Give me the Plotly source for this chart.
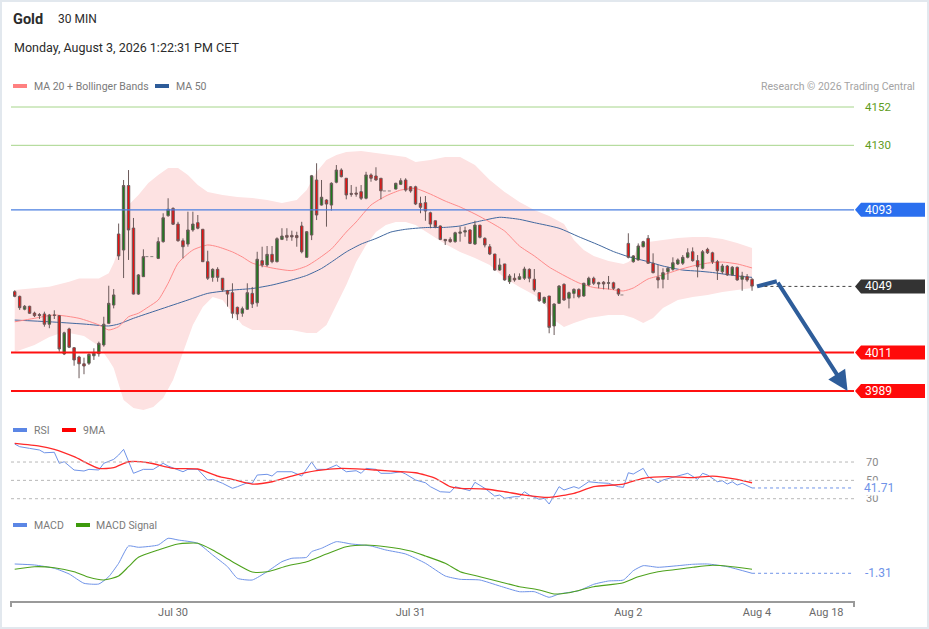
import plotly.graph_objects as go

# ---------------- data ----------------
candle_open = [4046.0,4043.3,4035.9,4037.6,4033.7,4032.9,4033.2,4027.3,4032.6,4032.2,
    4010.2,4024.6,4013.8,4008.5,4004.6,4004.9,4009.2,4010.4,4015.4,4027.8,
    4038.3,4079.1,4069.9,4106.9,4082.5,4044.6,4054.6,4066.1,4066.1,4065.1,
    4074.7,4089.6,4093.8,4084.8,4075.2,4073.3,4081.4,4085.6,4081.8,4063.2,
    4054.2,4058.8,4053.7,4046.5,4045.4,4037.0,4033.6,4035.9,4045.0,4039.6,
    4063.8,4061.3,4067.4,4063.2,4076.0,4078.3,4078.3,4078.2,4083.7,4065.7,
    4078.5,4110.1,4095.7,4098.6,4095.7,4108.8,4115.8,4111.1,4102.4,4102.6,
    4103.4,4099.6,4113.0,4112.4,4111.1,4103.8,4103.8,4104.9,4107.6,4110.1,
    4106.2,4106.2,4096.7,4097.1,4091.3,4086.7,4083.7,4076.0,4076.0,4074.7,
    4079.5,4080.2,4081.4,4073.3,4084.2,4076.6,4071.8,4067.6,4058.4,4061.9,
    4051.7,4053.7,4053.1,4053.7,4058.8,4053.1,4045.4,4039.6,4043.5,4026.3,
    4039.3,4050.2,4042.2,4045.0,4047.3,4043.5,4049.8,4053.7,4050.4,4051.4,
    4050.8,4051.1,4047.5,4044.1,4073.7,4063.2,4064.2,4071.8,4076.6,4062.3,
    4054.2,4053.1,4057.4,4058.8,4061.9,4062.3,4065.7,4068.9,4063.8,4059.4,
    4070.3,4068.3,4063.2,4057.4,4060.7,4055.6,4060.0,4053.1,4054.6,4053.1]
candle_high = [4046.8,4043.7,4038.3,4037.9,4034.5,4033.7,4034.5,4033.2,4035.3,4032.6,
    4023.0,4025.3,4014.2,4009.2,4008.1,4010.6,4013.5,4017.3,4031.6,4049.4,
    4047.5,4085.1,4110.1,4115.8,4088.3,4056.1,4070.3,4066.1,4066.1,4077.2,
    4091.0,4099.6,4094.4,4086.1,4076.6,4091.9,4091.9,4090.0,4082.0,4069.5,
    4059.4,4060.0,4053.8,4047.0,4050.8,4037.4,4037.4,4050.8,4048.7,4068.9,
    4071.8,4072.2,4072.2,4077.2,4082.4,4082.4,4081.0,4080.4,4086.1,4080.8,
    4113.0,4119.7,4110.1,4099.0,4108.8,4118.7,4116.8,4111.2,4107.2,4106.2,
    4107.2,4114.8,4113.9,4117.4,4111.2,4103.8,4103.8,4108.5,4111.1,4111.1,
    4106.6,4106.8,4100.5,4100.9,4091.9,4086.8,4084.0,4076.2,4077.2,4080.4,
    4083.3,4083.3,4081.8,4086.7,4084.2,4077.2,4073.3,4067.6,4065.1,4061.9,
    4056.1,4056.5,4056.5,4060.3,4059.4,4059.0,4045.5,4043.1,4043.5,4039.3,
    4049.8,4050.8,4046.0,4047.9,4047.9,4051.1,4054.6,4054.6,4051.7,4052.1,
    4055.0,4051.7,4047.9,4044.1,4079.5,4067.0,4073.7,4075.2,4078.5,4068.0,
    4061.3,4059.4,4060.3,4065.7,4065.1,4067.0,4070.9,4071.4,4067.0,4069.9,
    4071.2,4068.9,4064.2,4061.9,4061.3,4060.7,4060.3,4057.4,4056.1,4053.7]
candle_low = [4042.8,4035.5,4035.3,4033.2,4031.4,4030.3,4025.9,4025.0,4030.3,4011.5,
    4009.6,4013.6,4003.5,3996.3,3998.6,4003.9,4006.8,4008.7,4014.4,4027.4,
    4036.4,4064.2,4053.8,4064.2,4044.4,4044.1,4054.4,4066.1,4066.1,4064.7,
    4074.1,4089.0,4084.3,4074.7,4065.1,4071.8,4080.4,4081.8,4063.0,4052.7,
    4051.7,4051.7,4046.0,4037.4,4030.7,4029.7,4031.6,4035.5,4036.6,4037.4,
    4060.0,4060.3,4062.3,4062.8,4075.6,4075.2,4075.2,4071.8,4068.0,4065.6,
    4075.6,4087.1,4095.4,4083.3,4092.5,4108.2,4111.6,4099.0,4100.5,4100.5,
    4098.6,4099.0,4109.1,4109.7,4099.0,4103.8,4103.8,4104.7,4107.2,4103.4,
    4102.8,4095.7,4091.0,4086.7,4082.4,4082.4,4075.6,4072.8,4074.1,4074.1,
    4074.7,4077.5,4073.3,4072.8,4076.6,4071.4,4067.0,4058.0,4058.0,4052.3,
    4050.4,4051.7,4052.7,4052.7,4051.4,4046.0,4040.2,4038.9,4022.1,4021.1,
    4038.9,4040.8,4036.4,4042.2,4042.2,4043.1,4049.2,4049.8,4047.9,4047.3,
    4047.3,4047.0,4043.5,4044.1,4065.1,4062.6,4063.8,4071.4,4061.9,4056.5,
    4047.9,4047.9,4052.7,4058.0,4061.3,4061.3,4065.1,4063.2,4054.2,4058.8,
    4067.6,4061.9,4052.7,4056.1,4055.0,4055.0,4052.3,4046.5,4051.7,4046.5]
candle_close = [4043.3,4036.8,4037.6,4033.6,4032.2,4032.3,4027.3,4032.6,4032.4,4013.1,
    4022.4,4014.1,4006.8,4004.6,4003.3,4010.0,4010.6,4016.3,4027.3,4039.3,
    4044.1,4066.5,4106.9,4081.4,4044.6,4055.6,4066.1,4066.1,4066.1,4074.7,
    4088.4,4093.3,4084.7,4075.2,4071.8,4081.4,4084.8,4082.4,4063.2,4053.7,
    4058.8,4054.2,4047.0,4044.6,4033.6,4033.2,4036.2,4045.4,4038.9,4064.6,
    4061.3,4067.4,4063.2,4076.4,4077.9,4077.2,4077.4,4077.0,4068.9,4080.4,
    4112.5,4090.0,4100.2,4096.3,4108.2,4115.8,4112.0,4101.5,4101.9,4102.0,
    4099.6,4113.0,4111.1,4110.1,4103.9,4103.8,4103.8,4108.2,4109.7,4104.3,
    4103.8,4096.3,4094.4,4092.3,4084.8,4083.3,4076.0,4075.2,4074.7,4079.8,
    4080.2,4081.0,4073.7,4084.2,4077.2,4072.8,4067.6,4058.4,4061.3,4052.7,
    4055.0,4052.7,4054.6,4059.0,4053.7,4047.0,4040.8,4042.7,4025.5,4038.9,
    4049.2,4041.2,4045.4,4047.3,4043.1,4050.8,4053.7,4050.8,4051.1,4050.4,
    4051.1,4047.9,4044.6,4044.1,4065.7,4066.5,4072.2,4074.7,4062.3,4056.9,
    4052.7,4056.9,4059.4,4062.6,4064.2,4065.7,4068.3,4063.8,4060.3,4068.9,
    4068.3,4063.2,4058.0,4060.7,4055.6,4060.0,4052.7,4055.0,4052.7,4049.2]

bb_upper_idx = [0,4,7,11,13,17,19,20,21,22,23,25,27,29,31,33,35,37,39,42,45,48,51,54,57,59,
    61,63,65,67,70,73,76,79,81,84,87,90,93,96,99,102,105,108,111,113,115,117,120,123,
    124,125,126,128,131,134,137,140,143,146,149]
bb_upper = [4046.9,4048.1,4048.8,4051.7,4053.6,4053.6,4056.5,4062.4,4069.9,4087.1,4095.7,
    4101.5,4108.4,4112.9,4117.0,4117.0,4112.9,4107.2,4103.2,4101.5,4100.3,4099.8,4098.6,
    4096.9,4098.6,4104.3,4114.7,4121.6,4124.4,4126.2,4126.7,4125.6,4124.4,4123.3,4120.4,
    4121.6,4123.3,4123.3,4118.7,4110.1,4103.2,4097.5,4092.9,4089.4,4084.8,4075.6,4069.9,
    4066.5,4063.6,4061.9,4063.0,4065.3,4072.8,4074.5,4075.6,4076.8,4077.4,4077.4,4076.2,
    4073.9,4071.0]
bb_lower_idx = [0,4,7,10,14,17,19,20,21,22,24,26,28,30,32,34,36,38,40,42,44,46,48,52,56,59,
    61,63,65,67,69,71,73,75,77,79,81,84,87,90,93,96,99,102,105,107,109,111,113,116,120,
    123,125,127,129,131,134,137,140,143,146,149]
bb_lower = [4011.4,4015.4,4020.0,4022.8,4020.5,4014.8,4006.8,4002.2,3992.4,3983.8,3979.2,
    3978.1,3979.8,3985.0,3995.3,4011.4,4026.9,4037.2,4042.9,4041.2,4034.3,4026.9,4024.0,
    4024.0,4024.0,4022.3,4022.3,4026.9,4038.3,4049.8,4063.0,4072.8,4080.2,4084.3,4086.0,
    4086.0,4084.3,4079.1,4073.4,4068.8,4065.3,4061.3,4053.8,4048.7,4044.1,4039.5,4029.7,
    4025.7,4028.0,4030.9,4032.6,4032.6,4030.9,4028.0,4030.9,4036.6,4041.2,4042.9,4044.1,
    4045.8,4046.9,4048.1]
ma20_idx = [0,4,8,13,17,19,21,23,25,27,29,31,33,36,39,41,44,46,48,52,56,59,61,64,67,69,72,
    75,78,81,84,87,90,93,96,99,102,105,108,111,114,117,120,123,125,128,131,134,137,140,
    143,146,149]
ma20 = [4028.7,4030.7,4032.6,4030.7,4026.9,4024.0,4025.9,4031.6,4033.6,4037.2,4041.2,
    4050.8,4062.3,4069.9,4072.8,4071.8,4068.8,4065.9,4062.4,4059.6,4058.1,4060.7,4064.2,
    4070.5,4080.2,4086.0,4095.7,4100.9,4104.3,4105.2,4102.0,4098.0,4094.6,4090.6,4086.0,
    4080.8,4072.2,4066.5,4060.1,4055.3,4051.0,4048.4,4047.5,4046.4,4048.1,4053.3,4055.6,
    4058.4,4060.7,4062.4,4063.0,4061.9,4059.6]
ma50_idx = [0,7,14,19,21,24,29,35,39,44,48,52,56,59,62,64,67,70,73,76,79,83,87,90,92,95,
    98,102,105,110,114,118,121,124,128,131,135,138,141,144,147,149]
ma50 = [4029.7,4028.7,4027.4,4026.3,4027.4,4030.7,4035.5,4041.2,4045.0,4046.9,4047.8,
    4049.8,4052.7,4055.3,4059.3,4063.0,4068.8,4073.3,4076.5,4080.2,4081.8,4082.8,4082.9,
    4083.7,4085.2,4087.1,4088.7,4087.5,4085.6,4082.4,4077.5,4072.8,4069.0,4066.1,4063.2,
    4060.7,4058.4,4057.8,4057.0,4055.8,4054.7,4054.2]

rsi_idx = [0,1,3,5,6,8,9,10,12,14,15,17,18,20,21,22,24,26,28,30,31,34,35,37,39,40,42,44,
    45,47,48,49,51,52,53,56,58,60,61,63,65,67,69,70,71,73,74,76,78,79,81,83,84,86,88,89,
    92,93,95,97,98,99,101,102,103,104,106,107,108,110,111,113,114,116,118,120,122,123,
    124,125,127,128,130,131,133,136,138,139,140,142,143,144,145,146,147,149]
rsi = [89.6,86.7,84.9,83.1,80.1,80.6,68.6,70.3,61.3,60.2,62.0,61.3,68.6,72.9,77.6,83.8,
    57.7,62.0,62.0,68.6,65.6,59.4,62.0,62.0,50.4,51.1,46.8,41.3,43.1,47.4,46.8,55.8,56.6,
    54.7,59.4,59.4,54.7,70.0,62.0,62.0,66.7,59.4,60.5,57.7,63.1,62.0,57.7,57.7,59.4,56.9,
    50.4,47.4,43.1,37.6,37.0,43.1,38.7,47.9,41.3,32.9,34.0,30.4,32.2,32.2,37.6,34.0,29.3,
    30.4,24.2,43.1,39.5,43.1,41.3,48.5,47.4,46.8,43.1,42.4,58.3,56.9,63.1,54.0,47.4,50.4,
    53.3,57.7,51.1,57.7,55.8,48.5,49.6,46.0,48.5,44.9,46.8,41.71]
rsi_ma_idx = [0,5,8,12,17,20,23,27,32,37,41,44,48,52,56,61,66,73,78,81,85,88,90,95,99,103,
    108,113,117,123,127,132,137,141,146,149]
rsi_ma = [90.4,87.4,83.8,75.8,63.1,63.8,70.3,69.2,63.1,62.4,54.7,51.1,46.0,48.5,54.7,60.5,
    63.1,61.3,59.4,58.3,52.2,43.1,41.3,40.6,37.6,34.0,31.5,35.9,43.1,46.0,52.2,54.0,52.9,
    54.7,51.1,47.4]
macd_idx = [0,4,8,11,14,17,19,21,23,25,29,31,33,37,40,43,45,48,51,54,56,59,60,62,65,68,72,
    75,79,83,87,90,94,98,102,105,108,110,114,117,120,123,125,127,130,134,137,140,144,149]
macd = [2.41,2.01,0.69,-1.59,-5.31,-5.59,-2.67,2.69,9.61,9.09,10.01,12.69,12.01,10.69,
    6.01,1.33,-3.31,-3.99,-0.67,3.33,4.69,5.09,7.33,8.69,11.33,10.41,9.61,8.01,6.41,2.69,
    -2.39,-3.71,-3.99,-6.39,-8.67,-8.67,-10.91,-9.59,-8.27,-5.71,-4.39,-3.99,-0.27,1.73,
    1.09,1.73,2.29,2.41,1.33,-1.31]
signal_idx = [0,4,8,12,15,18,21,23,25,29,33,37,40,44,48,51,55,59,63,67,71,75,80,83,87,90,
    94,98,102,106,109,112,117,123,126,130,134,137,141,145,149]
signal = [0.29,1.33,0.93,-0.67,-2.91,-3.99,-2.39,1.33,5.09,8.01,10.41,10.69,8.01,3.33,
    -0.79,-0.67,1.61,3.33,6.41,9.33,10.01,9.33,7.61,5.61,2.69,-0.67,-2.67,-4.67,-6.67,
    -7.99,-9.59,-9.07,-6.67,-5.07,-2.67,-0.67,0.29,1.09,1.89,1.33,0.29]

tick_idx = [32, 80, 124, 150, 164]
tick_labels = ["Jul 30", "Jul 31", "Aug 2", "Aug 4", "Aug 18"]

resistance_levels = [4152, 4130]
pivot_level = 4093
support_levels = [4011, 3989]
last_price = 4049
rsi_levels = [70, 50, 30]
rsi_last = 41.71
macd_last = -1.31
forecast_idx = [150, 154, 168.3]
forecast_price = [4049, 4052, 3989]

# ---------------- geometry helpers (pixel layout) ----------------
W, H = 929, 629
PL, PR, PT, PB = 11, 854, 97, 601
X_RANGE = [-0.75, 169.6]
MAIN_RANGE = [3973.47, 4157.74]
RSI_RANGE = [19.86, 93.98]
MACD_RANGE = [-12.39, 14.01]
MAIN_DOMAIN = [0.3631, 1]


def fx(px):
    return (px - PL) / (PR - PL)


def fy(py):
    return (PB - py) / (PB - PT)


FONT = "Roboto, Arial, sans-serif"
GREEN_C = "#1d7a1d"
RED_C = "#ea1010"
WICK = "#6b5a5a"
RSI_BLUE = "#6f93e8"

n = len(candle_close)
flat = [i for i in range(n) if candle_high[i] == candle_low[i]]
idx = [i for i in range(n) if i not in flat]

fig = go.Figure()

# Bollinger band fill
fig.add_trace(go.Scatter(
    x=bb_upper_idx + bb_lower_idx[::-1], y=bb_upper + bb_lower[::-1],
    fill="toself", fillcolor="#fde2e2", line=dict(width=0),
    hoverinfo="skip", showlegend=False, xaxis="x", yaxis="y"))
fig.add_trace(go.Scatter(x=ma50_idx, y=ma50, mode="lines",
    line=dict(color="#41689f", width=1, shape="spline", smoothing=0.6),
    showlegend=False, xaxis="x", yaxis="y"))
fig.add_trace(go.Scatter(x=ma20_idx, y=ma20, mode="lines",
    line=dict(color="#ff8a8a", width=1, shape="spline", smoothing=0.6),
    showlegend=False, xaxis="x", yaxis="y"))

# flat (no trade) candles drawn as dashed ticks
for i in flat:
    fig.add_trace(go.Scatter(x=[i - 0.6, i + 0.6], y=[candle_close[i]] * 2, mode="lines",
        line=dict(color="#8a8080", width=1, dash="dot"), showlegend=False,
        xaxis="x", yaxis="y4"))

fig.add_trace(go.Candlestick(
    x=idx,
    open=[candle_open[i] for i in idx], high=[candle_high[i] for i in idx],
    low=[candle_low[i] for i in idx], close=[candle_close[i] for i in idx],
    increasing=dict(fillcolor=GREEN_C, line=dict(color=WICK, width=1)),
    decreasing=dict(fillcolor=RED_C, line=dict(color=WICK, width=1)),
    whiskerwidth=0, showlegend=False, xaxis="x", yaxis="y4"))

# forecast arrow
fig.add_trace(go.Scatter(x=forecast_idx[:2], y=forecast_price[:2], mode="lines",
    line=dict(color="#2e5d9a", width=4), showlegend=False, xaxis="x", yaxis="y4"))

# RSI panel
fig.add_trace(go.Scatter(x=rsi_idx, y=rsi, mode="lines", line=dict(color=RSI_BLUE, width=1),
    showlegend=False, xaxis="x", yaxis="y2"))
fig.add_trace(go.Scatter(x=rsi_ma_idx, y=rsi_ma, mode="lines",
    line=dict(color="#ff2a2a", width=1.3, shape="spline", smoothing=0.6),
    showlegend=False, xaxis="x", yaxis="y2"))

# MACD panel
fig.add_trace(go.Scatter(x=macd_idx, y=macd, mode="lines",
    line=dict(color=RSI_BLUE, width=1, shape="spline", smoothing=0.5),
    showlegend=False, xaxis="x", yaxis="y3"))
fig.add_trace(go.Scatter(x=signal_idx, y=signal, mode="lines",
    line=dict(color="#4ea21d", width=1.1, shape="spline", smoothing=0.6),
    showlegend=False, xaxis="x", yaxis="y3"))

shapes = []
annotations = []

# horizontal level lines
for lv in resistance_levels:
    shapes.append(dict(type="line", xref="paper", yref="y", x0=0, x1=1, y0=lv, y1=lv,
                       line=dict(color="#a6d58a", width=1), layer="below"))
    annotations.append(dict(xref="paper", yref="y", x=fx(863), y=lv, text=str(lv),
                            showarrow=False, xanchor="left", yanchor="middle",
                            font=dict(family=FONT, size=11.5, color="#5e9c1c")))
shapes.append(dict(type="line", xref="paper", yref="y", x0=0, x1=1, y0=pivot_level,
                   y1=pivot_level, line=dict(color="#4a7fe0", width=1.3)))
for lv in support_levels:
    shapes.append(dict(type="line", xref="paper", yref="y", x0=0, x1=1, y0=lv, y1=lv,
                       line=dict(color="#ff1010", width=2)))
shapes.append(dict(type="line", xref="x", yref="y", x0=n + 1.5, x1=X_RANGE[1],
                   y0=last_price, y1=last_price,
                   line=dict(color="#444444", width=1, dash="dot")))

half = 7 / ((PB - PT) * (MAIN_DOMAIN[1] - MAIN_DOMAIN[0]) / (MAIN_RANGE[1] - MAIN_RANGE[0]))


def tag(level, color):
    x_tip, x_a, x_e = fx(855), fx(861), fx(925)
    path = (f"M {x_tip},{level} L {x_a},{level + half} L {x_e},{level + half} "
            f"L {x_e},{level - half} L {x_a},{level - half} Z")
    shapes.append(dict(type="path", xref="paper", yref="y", path=path,
                       fillcolor=color, line=dict(width=0)))
    annotations.append(dict(xref="paper", yref="y", x=fx(863), y=level, text=str(level),
                            showarrow=False, xanchor="left", yanchor="middle",
                            font=dict(family=FONT, size=12, color="white")))


tag(pivot_level, "#2a6fef")
tag(last_price, "#333333")
for lv in support_levels:
    tag(lv, "#ff0a0a")

# forecast arrowhead segment
annotations.append(dict(xref="x", yref="y", axref="x", ayref="y",
                        x=forecast_idx[2], y=forecast_price[2],
                        ax=forecast_idx[1], ay=forecast_price[1],
                        showarrow=True, arrowhead=2, arrowsize=1, arrowwidth=4,
                        arrowcolor="#2e5d9a", text=""))

# RSI levels
for lv in rsi_levels:
    shapes.append(dict(type="line", xref="paper", yref="y2", x0=0, x1=1, y0=lv, y1=lv,
                       line=dict(color="#b8b8b8", width=1, dash="dot")))
    annotations.append(dict(xref="paper", yref="y2", x=fx(864), y=lv, text=str(lv),
                            showarrow=False, xanchor="left", yanchor="middle",
                            font=dict(family=FONT, size=11, color="#8a8a8a")))
shapes.append(dict(type="line", xref="x", yref="y2", x0=n - 1, x1=X_RANGE[1],
                   y0=rsi_last, y1=rsi_last, line=dict(color=RSI_BLUE, width=1, dash="dot")))
annotations.append(dict(xref="paper", yref="y2", x=fx(863), y=rsi_last, text=f"{rsi_last:.2f}",
                        showarrow=False, xanchor="left", yanchor="middle", bgcolor="white",
                        borderpad=0, font=dict(family=FONT, size=12, color=RSI_BLUE)))
shapes.append(dict(type="line", xref="x", yref="y3", x0=n - 1, x1=X_RANGE[1],
                   y0=macd_last, y1=macd_last, line=dict(color=RSI_BLUE, width=1, dash="dot")))
annotations.append(dict(xref="paper", yref="y3", x=fx(863), y=macd_last, text=f"{macd_last:.2f}",
                        showarrow=False, xanchor="left", yanchor="middle", bgcolor="white",
                        font=dict(family=FONT, size=12, color=RSI_BLUE)))

# axis end ticks
for xe in (0, 1):
    shapes.append(dict(type="line", xref="paper", yref="paper", x0=xe, x1=xe,
                       y0=fy(601), y1=fy(607), line=dict(color="#9a9a9a", width=2)))

# frame border
shapes.append(dict(type="rect", xref="paper", yref="paper", x0=fx(1), x1=fx(928),
                   y0=fy(628), y1=fy(1), line=dict(color="#e2e8ee", width=2),
                   fillcolor="rgba(0,0,0,0)"))


def text(px, py, s, size=11, color="#7a7a7a", bold=False, anchor="left"):
    annotations.append(dict(xref="paper", yref="paper", x=fx(px), y=fy(py),
                            text=f"<b>{s}</b>" if bold else s, showarrow=False,
                            xanchor=anchor, yanchor="middle",
                            font=dict(family=FONT, size=size, color=color)))


def swatch(px0, px1, py, color):
    shapes.append(dict(type="rect", xref="paper", yref="paper", x0=fx(px0), x1=fx(px1),
                       y0=fy(py + 2), y1=fy(py - 2), fillcolor=color, line=dict(width=0)))


text(11, 19, "Gold", size=14.5, color="#2b2b2b", bold=True)
text(56, 19, "30 MIN", size=12, color="#2b2b2b")
text(12, 48, "Monday, August 3, 2026 1:22:31 PM CET", size=12.5, color="#2b2b2b")
swatch(13, 27, 86, "#ff8080")
text(32, 86, "MA 20 + Bollinger Bands", size=10.5)
swatch(155, 169, 86, "#2e5c99")
text(174, 86, "MA 50", size=10.5)
text(917, 86, "Research © 2026 Trading Central", size=10.5, color="#a3a3a3", anchor="right")
swatch(13, 27, 430, "#5b86e5")
text(32, 430, "RSI", size=10.5)
swatch(62, 76, 430, "#ff0000")
text(81, 430, "9MA", size=10.5)
swatch(13, 27, 525, "#5b86e5")
text(32, 525, "MACD", size=10.5)
swatch(76, 90, 525, "#3d9a0c")
text(94, 525, "MACD Signal", size=10.5)

fig.update_layout(
    width=W, height=H, autosize=False,
    margin=dict(l=PL, r=W - PR, t=PT, b=H - PB, pad=0),
    paper_bgcolor="white", plot_bgcolor="white",
    font=dict(family=FONT),
    showlegend=False,
    xaxis=dict(domain=[0, 1], range=X_RANGE, anchor="y3", showgrid=False, zeroline=False,
               showline=True, linecolor="#9a9a9a", linewidth=2, ticks="",
               tickmode="array", tickvals=tick_idx, ticktext=tick_labels,
               tickfont=dict(family=FONT, size=11, color="#6a6a6a"),
               rangeslider=dict(visible=False), fixedrange=True),
    yaxis=dict(domain=MAIN_DOMAIN, range=MAIN_RANGE, visible=False, fixedrange=True),
    yaxis4=dict(overlaying="y", range=MAIN_RANGE, visible=False, fixedrange=True),
    yaxis2=dict(domain=[0.1845, 0.3194], range=RSI_RANGE, visible=False, fixedrange=True),
    yaxis3=dict(domain=[0, 0.131], range=MACD_RANGE, visible=False, fixedrange=True),
    shapes=shapes, annotations=annotations,
)

fig.write_html("out.html", config={"displayModeBar": False},
               post_script="document.body.style.margin='0';document.body.style.padding='0';")
